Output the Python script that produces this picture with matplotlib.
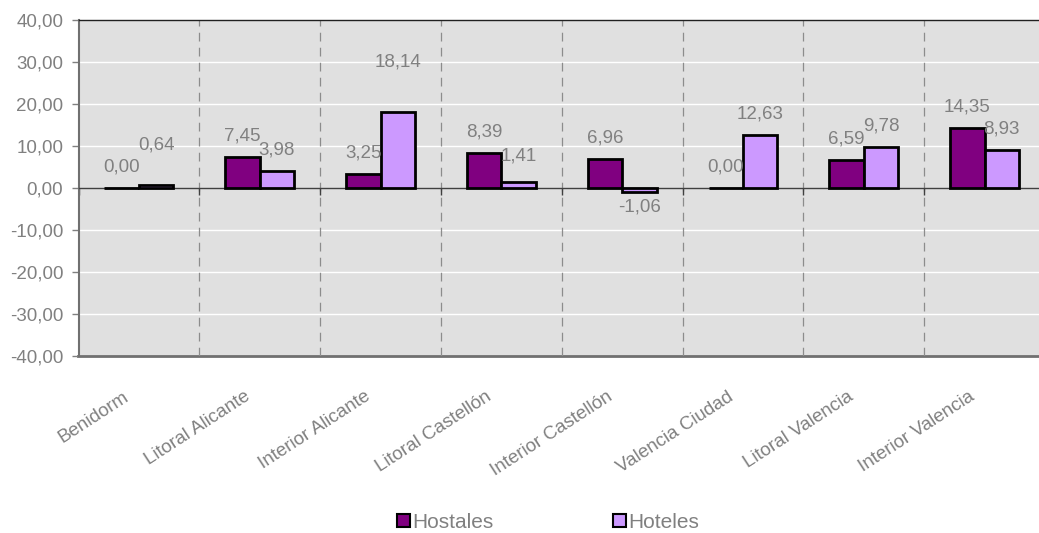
import matplotlib
matplotlib.use("Agg")
import matplotlib.pyplot as plt
from matplotlib.patches import Patch
from matplotlib.ticker import FixedLocator, FuncFormatter
import matplotlib.transforms as mtransforms
import numpy as np

plt.rcParams['font.family'] = ['Liberation Sans', 'DejaVu Sans']

categories = ["Benidorm", "Litoral Alicante", "Interior Alicante", "Litoral Castellón",
              "Interior Castellón", "Valencia Ciudad", "Litoral Valencia", "Interior Valencia"]
hostales = [0.00, 7.45, 3.25, 8.39, 6.96, 0.00, 6.59, 14.35]
hoteles = [0.64, 3.98, 18.14, 1.41, -1.06, 12.63, 9.78, 8.93]
series_names = ["Hostales", "Hoteles"]
y_ticks = [-40, -30, -20, -10, 0, 10, 20, 30, 40]

# extra label lift (pixels) to mimic the original label placement
hoteles_extra_px = [19, 0, 29, 5, 0, 0, 0, 0]
hostales_extra_px = [0, 0, 0, 0, 0, 0, 0, 0]

c_host = "#800080"
c_hot = "#CC99FF"
gray = "#808080"
fs = 13.5

W, H = 1039, 533
fig = plt.figure(figsize=(W / 100, H / 100), dpi=100)
# plot area runs slightly past the right edge of the image, as in the original
ax = fig.add_axes([78.5 / W, 1 - 356 / H, (1045 - 78.5) / W, (356 - 20) / H])
ax.set_facecolor("#E0E0E0")

x = np.arange(len(categories))
bw = 0.285
ax.set_xlim(-0.5, len(categories) - 0.5)
ax.set_ylim(-40, 40)

# horizontal white gridlines
for yv in y_ticks[1:-1]:
    if yv != 0:
        ax.axhline(yv, color="white", lw=1, zorder=1)

# vertical dashed separators
for b in np.arange(0.5, len(categories) - 0.5, 1):
    ax.axvline(b, color="#8C8C8C", lw=0.9, ls=(0, (7, 5)), zorder=1)

ax.bar(x - bw / 2, hostales, bw, color=c_host, edgecolor="black", lw=2, zorder=3)
ax.bar(x + bw / 2, hoteles, bw, color=c_hot, edgecolor="black", lw=2, zorder=3)

def fmt(v):
    return f"{v:.2f}".replace(".", ",")

for xs, vals, extra in ((x - bw / 2, hostales, hostales_extra_px), (x + bw / 2, hoteles, hoteles_extra_px)):
    for xi, v, e in zip(xs, vals, extra):
        if v >= 0:
            dy = 21 + e
        else:
            dy = -15 - e
        ax.annotate(fmt(v), (xi, v), xytext=(0, dy * 0.72), textcoords="offset points",
                    ha="center", va="center", fontsize=fs, color=gray, zorder=4)

# y axis
ax.yaxis.set_major_locator(FixedLocator(y_ticks))
ax.yaxis.set_major_formatter(FuncFormatter(lambda v, p: fmt(v)))
ax.tick_params(axis="y", colors="#808080", labelsize=fs, length=5, width=1, pad=6)
for lbl in ax.get_yticklabels():
    lbl.set_color(gray)

# zero line with boundary ticks
ax.spines["bottom"].set_position(("data", 0))
ax.spines["bottom"].set_color("#404040")
ax.spines["bottom"].set_linewidth(1)
ax.set_xticks(x)
ax.set_xticklabels([])
ax.tick_params(axis="x", which="major", length=0)
ax.set_xticks(np.arange(-0.5, len(categories) + 0.5, 1), minor=True)
ax.tick_params(axis="x", which="minor", length=5, width=1, color="#404040", direction="out")

ax.spines["top"].set_color("#202020")
ax.spines["top"].set_linewidth(1)
ax.spines["left"].set_color("#707070")
ax.spines["left"].set_linewidth(1.5)
ax.spines["right"].set_visible(False)

sec = ax.secondary_xaxis(0)
sec.set_xticks(x)
sec.set_xticklabels(categories, rotation=33, ha="right", va="baseline", rotation_mode="anchor",
                    fontsize=fs, color=gray)
sec.tick_params(axis="x", length=0, pad=31)
sec.spines["bottom"].set_color("#707070")
sec.spines["bottom"].set_linewidth(2)
shift = mtransforms.ScaledTranslation(-9 / 100, 0, fig.dpi_scale_trans)
for lbl in sec.get_xticklabels():
    lbl.set_transform(lbl.get_transform() + shift)

handles = [Patch(facecolor=c_host, edgecolor="black", lw=1.5),
           Patch(facecolor=c_hot, edgecolor="black", lw=1.5)]
leg = fig.legend(handles, series_names, loc="center", bbox_to_anchor=(548 / W, 1 - 522.5 / H),
                 ncol=2, frameon=False, fontsize=15, handlelength=0.62, handleheight=0.62,
                 handletextpad=0.12, columnspacing=5.75, labelcolor=gray)

fig.savefig("out.png", dpi=100)
